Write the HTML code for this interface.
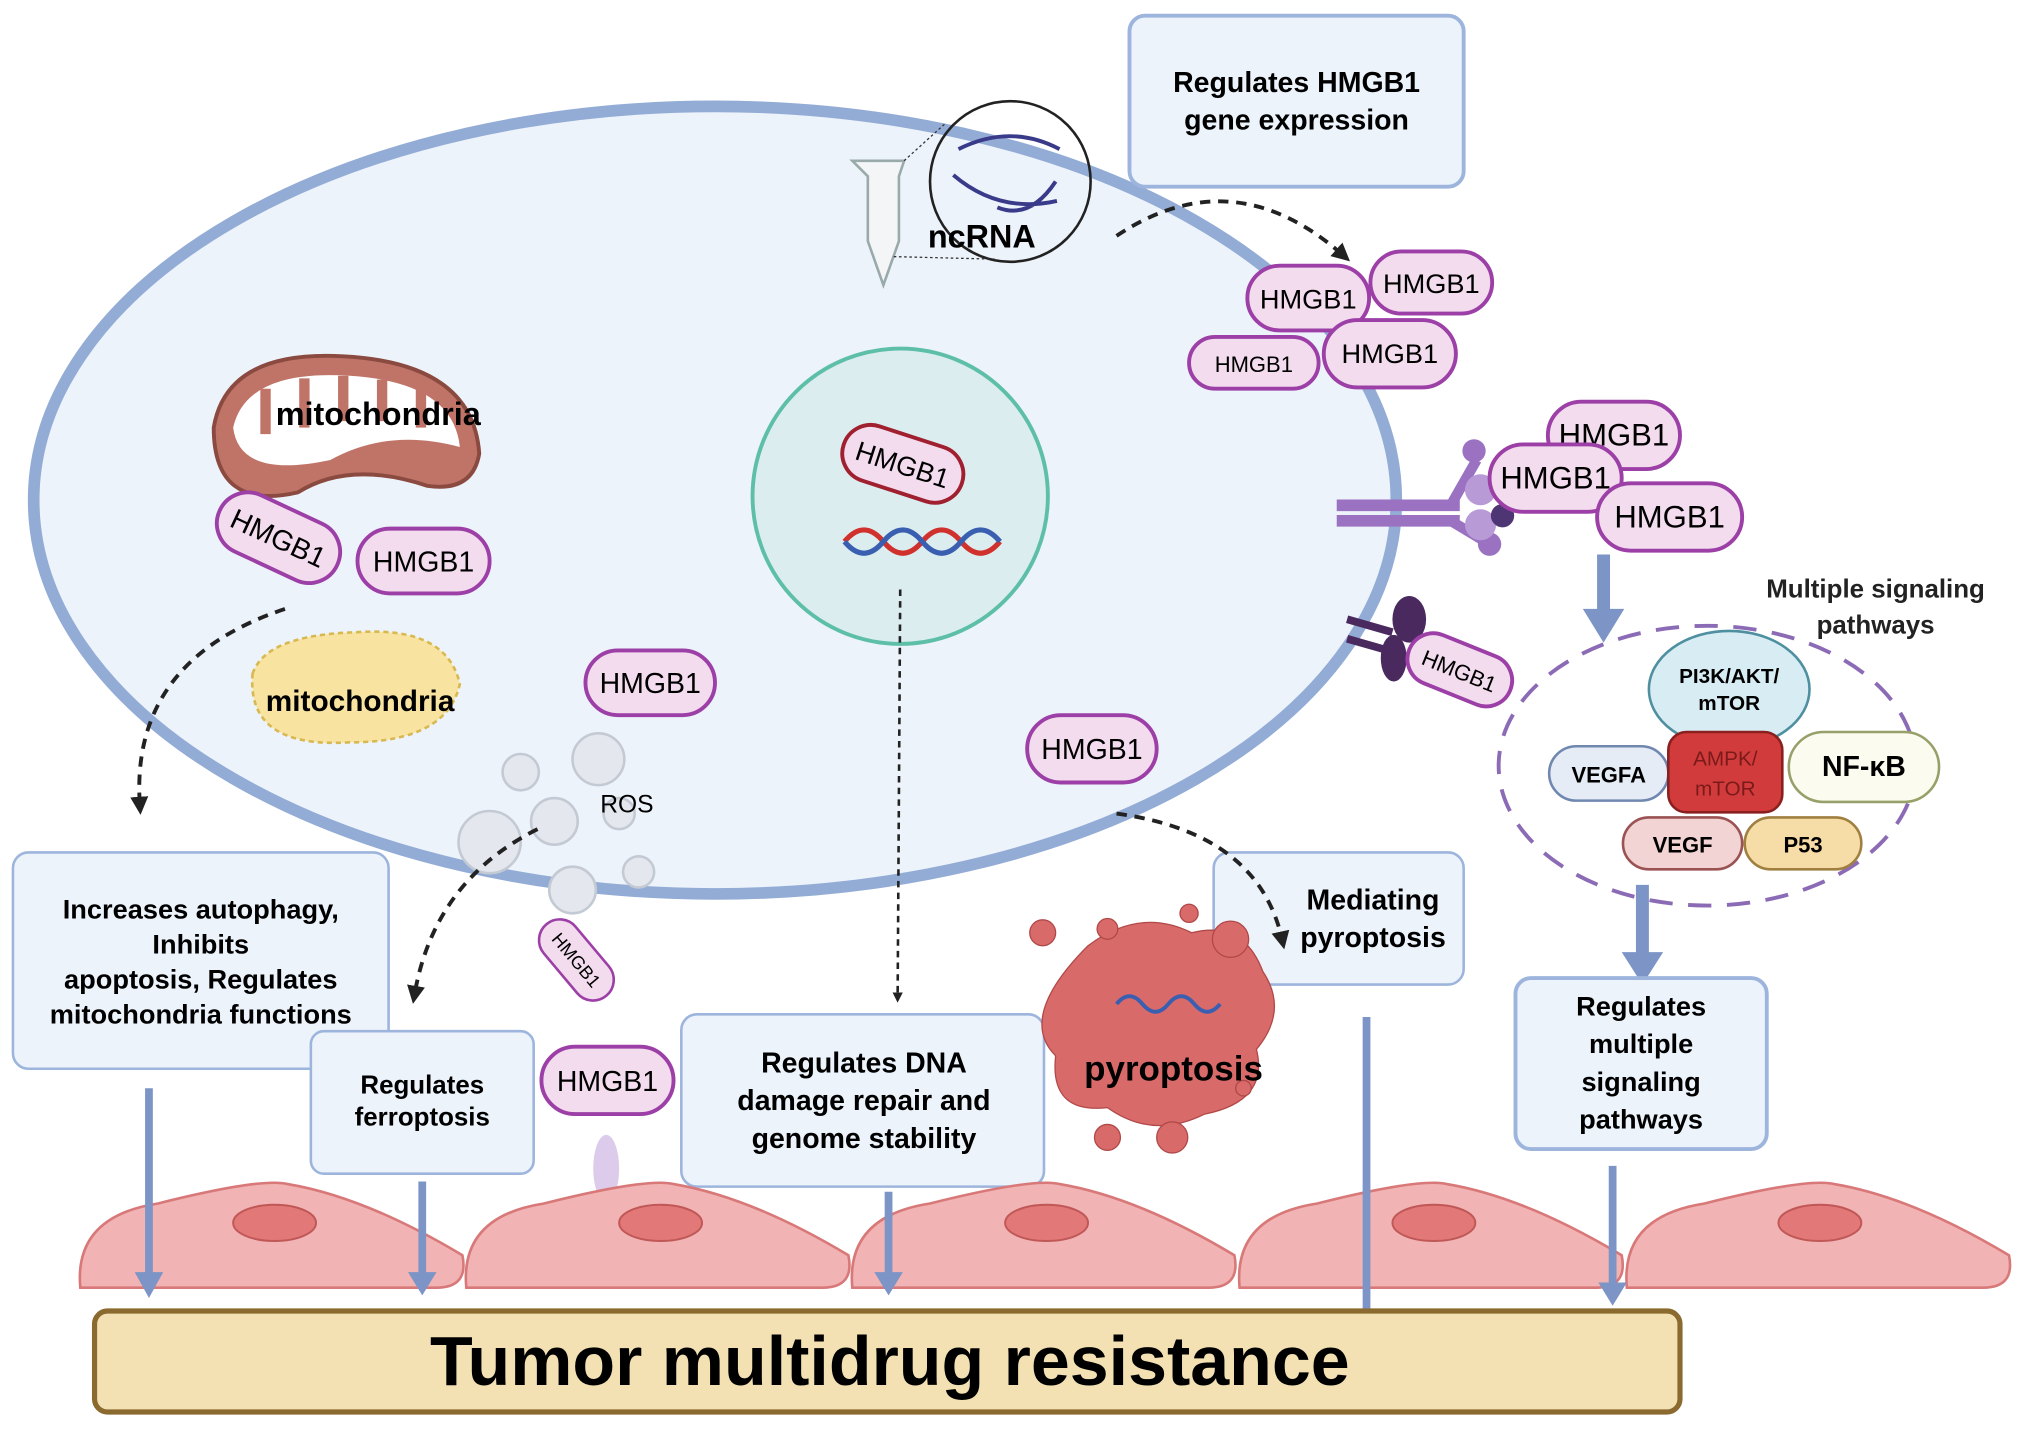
<!DOCTYPE html>
<html><head><meta charset="utf-8"><style>
html,body{margin:0;padding:0;background:#fff;}
svg{display:block;}
text{font-family:"Liberation Sans",sans-serif;}
.b{font-weight:bold;}
</style></head><body>
<svg width="2031" height="1429" viewBox="0 0 1568 1103" xmlns="http://www.w3.org/2000/svg">
<defs>
<marker id="ah" markerWidth="8" markerHeight="8" refX="4" refY="4" orient="auto" markerUnits="userSpaceOnUse"><path d="M0,0 L8,4 L0,8 z" fill="#222"/></marker>
<marker id="ah2" markerWidth="14" markerHeight="14" refX="7" refY="7" orient="auto" markerUnits="userSpaceOnUse"><path d="M0,0 L14,7 L0,14 z" fill="#222"/></marker>
</defs>
<ellipse cx="552" cy="386" rx="526" ry="304" fill="#edf3fb" stroke="#93acd6" stroke-width="9"/>
<circle cx="695" cy="383" r="114" fill="#dcedf0" stroke="#5ebfa8" stroke-width="3"/>
<path d="M652,418 q15,-18 30,0 t30,0 t30,0 t30,0" fill="none" stroke="#d0312d" stroke-width="4"/>
<path d="M652,418 q15,18 30,0 t30,0 t30,0 t30,0" fill="none" stroke="#3a5fb0" stroke-width="4"/>
<rect x="872" y="12" width="258" height="132" rx="12" fill="#edf3fb" stroke="#9db5dd" stroke-width="3"/>
<text x="1001" y="71" text-anchor="middle" class="b" font-size="22">Regulates HMGB1</text>
<text x="1001" y="100" text-anchor="middle" class="b" font-size="22">gene expression</text>
<path d="M658,124 h40 l-4,12 v50 l-12,34 l-12,-34 v-50 z" fill="#f3f5f7" stroke="#9aa" stroke-width="2"/>
<circle cx="780" cy="140" r="62" fill="none" stroke="#222" stroke-width="2"/>
<path d="M740,115 q40,-20 78,0 M736,135 q35,30 80,20 M770,160 q25,10 45,-20" fill="none" stroke="#3a3a8a" stroke-width="3"/>
<line x1="698" y1="124" x2="730" y2="95" stroke="#333" stroke-dasharray="2,2"/>
<line x1="690" y1="198" x2="770" y2="200" stroke="#333" stroke-dasharray="2,2"/>
<text x="758" y="191" text-anchor="middle" class="b" font-size="25">ncRNA</text>
<path d="M862,182 q90,-60 175,15" fill="none" stroke="#222" stroke-width="3" stroke-dasharray="8,6" marker-end="url(#ah2)"/>
<g font-size="21" text-anchor="middle">
<rect x="1058" y="194" width="94" height="48" rx="24" fill="#f2dcee" stroke="#9c3fa6" stroke-width="3"/><text x="1105" y="226">HMGB1</text>
<rect x="963" y="205" width="94" height="50" rx="25" fill="#f2dcee" stroke="#9c3fa6" stroke-width="3"/><text x="1010" y="238">HMGB1</text>
<rect x="1022" y="247" width="102" height="52" rx="26" fill="#f2dcee" stroke="#9c3fa6" stroke-width="3"/><text x="1073" y="280">HMGB1</text>
<rect x="918" y="260" width="100" height="40" rx="20" fill="#f2dcee" stroke="#9c3fa6" stroke-width="3"/><text x="968" y="287" font-size="17">HMGB1</text>
</g>
<path d="M1032,390 h95 M1032,402 h95" stroke="#9b72c2" stroke-width="9"/>
<path d="M1120,390 l20,-35 M1120,402 l25,15" stroke="#9b72c2" stroke-width="8"/>
<circle cx="1138" cy="348" r="9" fill="#9b72c2"/><circle cx="1150" cy="420" r="9" fill="#9b72c2"/>
<circle cx="1143" cy="378" r="12" fill="#b89ad6"/><circle cx="1143" cy="405" r="12" fill="#b89ad6"/>
<circle cx="1160" cy="398" r="9" fill="#4e3675"/>
<g font-size="24" text-anchor="middle">
<rect x="1195" y="310" width="102" height="52" rx="26" fill="#f2dcee" stroke="#9c3fa6" stroke-width="3"/><text x="1246" y="344">HMGB1</text>
<rect x="1150" y="343" width="102" height="52" rx="26" fill="#f2dcee" stroke="#9c3fa6" stroke-width="3"/><text x="1201" y="377">HMGB1</text>
<rect x="1233" y="373" width="112" height="52" rx="26" fill="#f2dcee" stroke="#9c3fa6" stroke-width="3"/><text x="1289" y="407">HMGB1</text>
</g>
<path d="M1040,478 l35,10 M1040,493 l35,10" stroke="#4a2a5e" stroke-width="6"/>
<ellipse cx="1088" cy="478" rx="13" ry="18" fill="#4a2a5e"/><ellipse cx="1076" cy="508" rx="10" ry="18" fill="#4a2a5e"/>
<g transform="translate(1127,517) rotate(22)"><rect x="-42" y="-20" width="84" height="40" rx="20" fill="#f2dcee" stroke="#9c3fa6" stroke-width="3"/><text x="0" y="7" text-anchor="middle" font-size="17">HMGB1</text></g>
<line x1="1238" y1="428" x2="1238" y2="472" stroke="#7d94c6" stroke-width="10"/>
<path d="M1222,470 h32 l-16,26 z" fill="#7d94c6"/>
<text x="1448" y="461" text-anchor="middle" class="b" font-size="20" fill="#222">Multiple signaling</text>
<text x="1448" y="489" text-anchor="middle" class="b" font-size="20" fill="#222">pathways</text>
<ellipse cx="1318" cy="591" rx="161" ry="108" fill="none" stroke="#8b6bb5" stroke-width="3" stroke-dasharray="18,12"/>
<ellipse cx="1335" cy="532" rx="62" ry="45" fill="#d7ecf3" stroke="#4e8fa0" stroke-width="2"/>
<text x="1335" y="527" text-anchor="middle" class="b" font-size="16">PI3K/AKT/</text>
<text x="1335" y="548" text-anchor="middle" class="b" font-size="16">mTOR</text>
<rect x="1196" y="576" width="92" height="42" rx="21" fill="#e6ecf6" stroke="#7088b0" stroke-width="2"/>
<text x="1242" y="604" text-anchor="middle" class="b" font-size="17">VEGFA</text>
<rect x="1288" y="565" width="88" height="62" rx="14" fill="#d23b3b" stroke="#8a1f1f" stroke-width="2"/>
<text x="1332" y="591" text-anchor="middle" font-size="16" fill="#7a1a1a">AMPK/</text>
<text x="1332" y="614" text-anchor="middle" font-size="16" fill="#7a1a1a">mTOR</text>
<rect x="1381" y="565" width="116" height="54" rx="27" fill="#fbfbef" stroke="#98a06a" stroke-width="2"/>
<text x="1439" y="599" text-anchor="middle" class="b" font-size="22">NF-κB</text>
<rect x="1253" y="631" width="92" height="40" rx="20" fill="#f3d4d4" stroke="#9a5252" stroke-width="2"/>
<text x="1299" y="658" text-anchor="middle" class="b" font-size="17">VEGF</text>
<rect x="1347" y="631" width="90" height="40" rx="20" fill="#f6dca6" stroke="#a08040" stroke-width="2"/>
<text x="1392" y="658" text-anchor="middle" class="b" font-size="17">P53</text>
<line x1="1268" y1="683" x2="1268" y2="740" stroke="#7d94c6" stroke-width="10"/>
<path d="M1252,735 h32 l-16,25 z" fill="#7d94c6"/>
<rect x="1170" y="755" width="194" height="132" rx="12" fill="#edf3fb" stroke="#9db5dd" stroke-width="3"/>
<g class="b" font-size="21" text-anchor="middle"><text x="1267" y="784">Regulates</text><text x="1267" y="813">multiple</text><text x="1267" y="842">signaling</text><text x="1267" y="871">pathways</text></g>
<path d="M165,330 q10,-60 100,-55 q100,5 105,75 q-5,30 -40,25 q-60,-20 -100,5 q-65,15 -65,-50 z" fill="#c07468" stroke="#8a4a40" stroke-width="3"/>
<path d="M180,330 q10,-45 90,-40 q80,5 85,55 q-55,-15 -100,10 q-70,15 -75,-25 z" fill="#fff"/>
<g stroke="#c07468" stroke-width="8"><line x1="205" y1="300" x2="205" y2="335"/><line x1="235" y1="292" x2="235" y2="330"/><line x1="265" y1="290" x2="265" y2="325"/><line x1="295" y1="293" x2="295" y2="325"/><line x1="325" y1="300" x2="325" y2="330"/></g>
<text x="292" y="328" text-anchor="middle" class="b" font-size="25">mitochondria</text>
<g transform="translate(215,415) rotate(25)"><rect x="-50" y="-24" width="100" height="48" rx="24" fill="#f2dcee" stroke="#9c3fa6" stroke-width="3"/><text x="0" y="8" text-anchor="middle" font-size="22">HMGB1</text></g>
<rect x="276" y="408" width="102" height="50" rx="25" fill="#f2dcee" stroke="#9c3fa6" stroke-width="3"/><text x="327" y="441" text-anchor="middle" font-size="22">HMGB1</text>
<path d="M195,520 q10,-30 80,-32 q70,-5 80,40 q-10,45 -85,45 q-80,5 -75,-53 z" fill="#f8e4a0" stroke="#d8b850" stroke-width="2" stroke-dasharray="4,3"/>
<text x="278" y="549" text-anchor="middle" class="b" font-size="23">mitochondria</text>
<path d="M220,470 q-120,40 -112,152" fill="none" stroke="#222" stroke-width="3" stroke-dasharray="8,6" marker-end="url(#ah2)"/>
<g fill="#e4e8ee" stroke="#c4cad4" stroke-width="2">
<circle cx="462" cy="586" r="20"/><circle cx="402" cy="596" r="14"/><circle cx="378" cy="650" r="24"/><circle cx="428" cy="634" r="18"/><circle cx="478" cy="628" r="12"/><circle cx="442" cy="687" r="18"/><circle cx="493" cy="673" r="12"/></g>
<text x="484" y="627" text-anchor="middle" font-size="19">ROS</text>
<rect x="452" y="502" width="100" height="50" rx="25" fill="#f2dcee" stroke="#9c3fa6" stroke-width="3"/><text x="502" y="535" text-anchor="middle" font-size="22">HMGB1</text>
<rect x="793" y="552" width="100" height="52" rx="26" fill="#f2dcee" stroke="#9c3fa6" stroke-width="3"/><text x="843" y="586" text-anchor="middle" font-size="22">HMGB1</text>
<g transform="translate(697,358) rotate(18)"><rect x="-48" y="-22" width="96" height="44" rx="22" fill="#f2dcee" stroke="#a02030" stroke-width="3"/><text x="0" y="8" text-anchor="middle" font-size="21">HMGB1</text></g>
<g transform="translate(445,741) rotate(50)"><rect x="-36" y="-16" width="72" height="32" rx="16" fill="#f2dcee" stroke="#9c3fa6" stroke-width="2"/><text x="0" y="5" text-anchor="middle" font-size="14">HMGB1</text></g>
<path d="M415,640 q-80,40 -95,128" fill="none" stroke="#222" stroke-width="3" stroke-dasharray="8,6" marker-end="url(#ah2)"/>
<line x1="695" y1="455" x2="693" y2="770" stroke="#222" stroke-width="2" stroke-dasharray="5,4" marker-end="url(#ah)"/>
<rect x="10" y="658" width="290" height="167" rx="12" fill="#edf3fb" stroke="#9db5dd" stroke-width="2"/>
<g class="b" font-size="21" text-anchor="middle"><text x="155" y="709">Increases autophagy,</text><text x="155" y="736">Inhibits</text><text x="155" y="763">apoptosis, Regulates</text><text x="155" y="790">mitochondria functions</text></g>
<rect x="240" y="796" width="172" height="110" rx="10" fill="#edf3fb" stroke="#9db5dd" stroke-width="2"/>
<g class="b" font-size="20" text-anchor="middle"><text x="326" y="844">Regulates</text><text x="326" y="869">ferroptosis</text></g>
<rect x="418" y="808" width="102" height="52" rx="26" fill="#f2dcee" stroke="#9c3fa6" stroke-width="3"/><text x="469" y="842" text-anchor="middle" font-size="22">HMGB1</text>
<ellipse cx="468" cy="902" rx="10" ry="26" fill="#dccbea"/>
<rect x="526" y="783" width="280" height="133" rx="12" fill="#edf3fb" stroke="#9db5dd" stroke-width="2"/>
<g class="b" font-size="22" text-anchor="middle"><text x="667" y="828">Regulates DNA</text><text x="667" y="857">damage repair and</text><text x="667" y="886">genome stability</text></g>
<rect x="937" y="658" width="193" height="102" rx="12" fill="#edf3fb" stroke="#9db5dd" stroke-width="2"/>
<g class="b" font-size="22" text-anchor="middle"><text x="1060" y="702">Mediating</text><text x="1060" y="731">pyroptosis</text></g>
<path d="M862,628 q110,15 128,98" fill="none" stroke="#222" stroke-width="3" stroke-dasharray="8,6" marker-end="url(#ah2)"/>
<g fill="#d96a6a" stroke="#b04848" stroke-width="1">
<path d="M840,730 q40,-30 80,-10 q40,-10 55,30 q20,30 -5,60 q10,40 -40,50 q-40,20 -75,-5 q-45,5 -40,-40 q-30,-30 25,-85 z"/>
<circle cx="805" cy="720" r="10"/><circle cx="855" cy="717" r="8"/><circle cx="950" cy="725" r="14"/><circle cx="960" cy="840" r="6"/><circle cx="905" cy="878" r="12"/><circle cx="855" cy="878" r="10"/><circle cx="918" cy="705" r="7"/></g>
<path d="M862,775 q10,-12 20,0 t20,0 t20,0 t20,0" fill="none" stroke="#3a5fb0" stroke-width="3"/>
<text x="906" y="834" text-anchor="middle" class="b" font-size="27">pyroptosis</text>
<g fill="#f1b3b3" stroke="#d87878" stroke-width="2">
<path d="M62,994 q-5,-55 60,-65 q80,-20 100,-15 q60,10 135,55 q5,25 -20,25 h-255 q-20,0 -20,0 z"/>
<path d="M360,994 q-5,-55 60,-65 q80,-20 100,-15 q60,10 135,55 q5,25 -20,25 h-255 z"/>
<path d="M658,994 q-5,-55 60,-65 q80,-20 100,-15 q60,10 135,55 q5,25 -20,25 h-255 z"/>
<path d="M957,994 q-5,-55 60,-65 q80,-20 100,-15 q60,10 135,55 q5,25 -20,25 h-255 z"/>
<path d="M1256,994 q-5,-55 60,-65 q80,-20 100,-15 q60,10 135,55 q5,25 -20,25 h-255 z"/>
</g>
<g fill="#e37878" stroke="#c05858" stroke-width="1.5">
<ellipse cx="212" cy="944" rx="32" ry="14"/><ellipse cx="510" cy="944" rx="32" ry="14"/><ellipse cx="808" cy="944" rx="32" ry="14"/><ellipse cx="1107" cy="944" rx="32" ry="14"/><ellipse cx="1405" cy="944" rx="32" ry="14"/></g>
<g stroke="#7d94c6" stroke-width="6">
<line x1="115" y1="840" x2="115" y2="985"/><line x1="326" y1="912" x2="326" y2="985"/><line x1="686" y1="920" x2="686" y2="985"/><line x1="1055" y1="785" x2="1055" y2="1012"/><line x1="1245" y1="900" x2="1245" y2="995"/></g>
<g fill="#7d94c6"><path d="M104,982 h22 l-11,20 z"/><path d="M315,982 h22 l-11,18 z"/><path d="M675,982 h22 l-11,18 z"/><path d="M1234,990 h22 l-11,18 z"/></g>
<rect x="73" y="1012" width="1224" height="78" rx="10" fill="#f3e1b3" stroke="#8a6a2f" stroke-width="4"/>
<text x="687" y="1069" text-anchor="middle" class="b" font-size="54">Tumor multidrug resistance</text>
</svg>
</body></html>
